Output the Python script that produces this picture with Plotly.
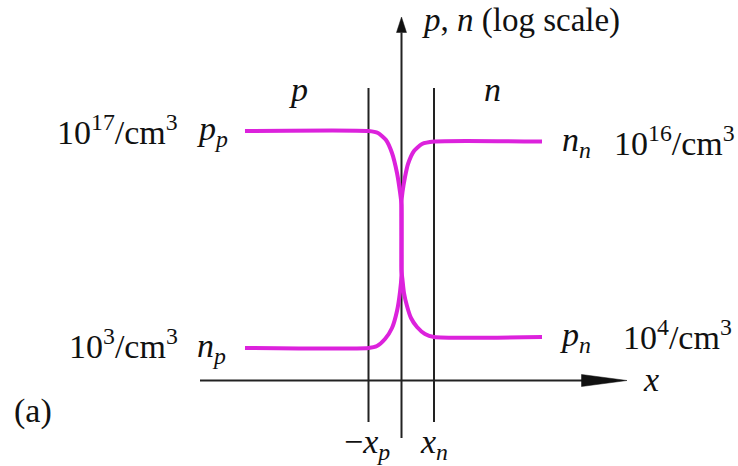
import plotly.graph_objects as go

# Schematic coordinates: x = 0 at the metallurgical junction, y = 0 on the x axis.
# y is a schematic log-concentration level (not to scale).

# Depletion-region edges
X_P = 33.0   # p-side edge sits at -X_P
X_N = 32.5   # n-side edge sits at +X_N

# Plateau levels (schematic log scale)
LEVEL_PP = 249.5   # p_p = 1e17 /cm^3
LEVEL_NN = 239.0   # n_n = 1e16 /cm^3
LEVEL_PN = 43.5    # p_n = 1e4 /cm^3
LEVEL_NP = 32.5    # n_p = 1e3 /cm^3

# Hole concentration profile p(x)
p_x = [-156.5, -33.0, -23.5, -15.5, -9.5, -4.5, -1.5, 0.0, 0.0, 1.0, 2.5, 5.5, 9.5, 15.5, 23.5, 32.5, 140.5]
p_y = [249.5, 249.5, 247.5, 240.5, 227.5, 207.5, 188.5, 175.5, 110.5, 100.5, 87.5, 74.5, 62.5, 53.5, 46.5, 43.5, 43.5]

# Electron concentration profile n(x)
n_x = [-156.5, -33.0, -24.5, -16.5, -9.5, -4.5, -1.5, 0.0, 0.0, 1.0, 3.5, 6.5, 12.5, 20.5, 32.5, 140.5]
n_y = [32.5, 32.5, 34.5, 41.5, 52.5, 69.5, 88.5, 105.5, 178.5, 188.5, 203.5, 216.5, 229.5, 236.5, 239.0, 239.0]

# Axis extents
X_AXIS = [-201.5, 204.0]
Y_AXIS = [-57.5, 348.0]
EDGE_LINE_Y = [-41.5, 292.5]

FONT = "Liberation Serif, Times New Roman, Times, serif"
FS = 34
MAGENTA = "#dc22dc"

fig = go.Figure()

# vertical boundary lines at -x_p and x_n
for xv in (-X_P, X_N):
    fig.add_trace(go.Scatter(x=[xv, xv], y=EDGE_LINE_Y, mode="lines",
                             line=dict(color="#222", width=2), hoverinfo="skip"))

# axes
fig.add_trace(go.Scatter(x=X_AXIS, y=[0, 0], mode="lines",
                         line=dict(color="#222", width=2), hoverinfo="skip"))
fig.add_trace(go.Scatter(x=[0, 0], y=Y_AXIS, mode="lines",
                         line=dict(color="#222", width=2), hoverinfo="skip"))

# arrowheads
ah_len, ah_half = 24, 6
fig.add_trace(go.Scatter(x=[X_AXIS[1] - ah_len, X_AXIS[1] + 21.5, X_AXIS[1] - ah_len, X_AXIS[1] - ah_len],
                         y=[ah_half, 0, -ah_half, ah_half], mode="lines", fill="toself",
                         fillcolor="#111", line=dict(color="#111", width=0.5), hoverinfo="skip"))
fig.add_trace(go.Scatter(x=[-5, 0, 5, -5],
                         y=[Y_AXIS[1], Y_AXIS[1] + 15.5, Y_AXIS[1], Y_AXIS[1]], mode="lines",
                         fill="toself", fillcolor="#111", line=dict(color="#111", width=0.5),
                         hoverinfo="skip"))

# carrier profiles
for xs, ys in ((p_x, p_y), (n_x, n_y)):
    fig.add_trace(go.Scatter(x=xs, y=ys, mode="lines",
                             line=dict(color=MAGENTA, width=4, shape="spline", smoothing=0.6),
                             hoverinfo="skip"))


def label(text, x, y, xanchor="center", size=FS):
    fig.add_annotation(x=x, y=y, text=text, showarrow=False, xanchor=xanchor, yanchor="middle",
                       font=dict(family=FONT, size=size, color="#111"))


label("<i>p</i>, <i>n</i> (log scale)", 18.5, 360.0, "left", 33)
label("<i>p</i>", -103.5, 291.0)
label("<i>n</i>", 90.5, 291.0)

label("10<sup>17</sup>/cm<sup>3</sup>", -221.5, LEVEL_PP + 1, "right")
label("<i>p<sub>p</sub></i>", -206.5, LEVEL_PP, "left")
label("<i>n<sub>n</sub></i>", 158.5, LEVEL_NN, "left")
label("10<sup>16</sup>/cm<sup>3</sup>", 210.5, LEVEL_NN + 1, "left")

label("10<sup>3</sup>/cm<sup>3</sup>", -221.5, LEVEL_NP + 4, "right")
label("<i>n<sub>p</sub></i>", -206.5, LEVEL_NP, "left")
label("<i>p<sub>n</sub></i>", 156.5, LEVEL_PN, "left")
label("10<sup>4</sup>/cm<sup>3</sup>", 219.5, LEVEL_PN + 2, "left")

label("<i>x</i>", 249.5, 1.0)
label("(a)", -389.5, -30.5, "left")
label("−<i>x<sub>p</sub></i>", -X_P - 2, -63.0)
label("<i>x<sub>n</sub></i>", X_N, -63.0)

fig.update_layout(
    width=738, height=466,
    margin=dict(l=0, r=0, t=0, b=0),
    paper_bgcolor="white", plot_bgcolor="white",
    showlegend=False,
    xaxis=dict(range=[-401.5, 336.5], visible=False, fixedrange=True),
    yaxis=dict(range=[-85.5, 380.5], visible=False, fixedrange=True),
)

fig.write_html("out.html")
